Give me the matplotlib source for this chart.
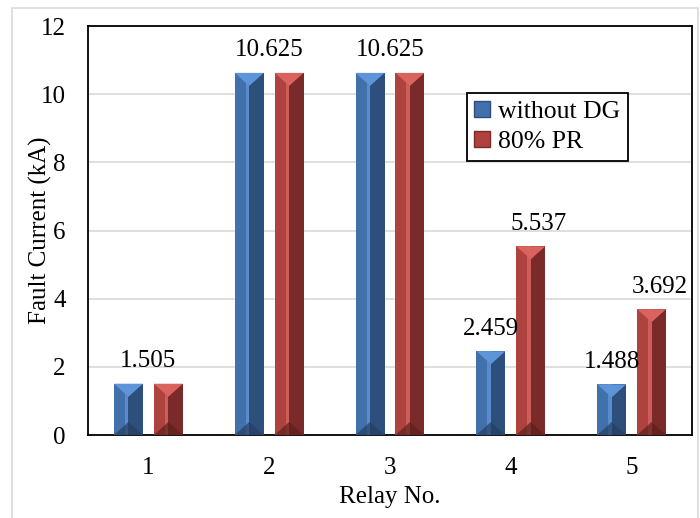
import numpy as np
import matplotlib.pyplot as plt
from matplotlib.patches import Polygon, Rectangle, Patch

# data
relays = [1, 2, 3, 4, 5]
without_dg = [1.505, 10.625, 10.625, 2.459, 1.488]
pr_80 = [1.505, 10.625, 10.625, 5.537, 3.692]
series_names = ['without DG', '80% PR']
yticks = [0, 2, 4, 6, 8, 10, 12]

# bevel shades: left, right, centre highlight, top, bottom
shades = {
    'without DG': ['#4170aa', '#2d4f7c', '#5a8ccc', '#5e94d8', '#263f60'],
    '80% PR': ['#ad423e', '#7a2a28', '#cc5d58', '#d9635e', '#5e201f'],
}

plt.rcParams['font.family'] = ['Liberation Serif', 'DejaVu Serif']
plt.rcParams['font.size'] = 18

fig = plt.figure(figsize=(7, 5.18), dpi=100)
ax = fig.add_axes([0.1257, 0.1602, 0.8629, 0.7896])
ax.set_xlim(0.5, 5.5)
ax.set_ylim(0, 12)

w = 0.24
offs = [-0.165, 0.165]
# pixel aspect to turn a horizontal bevel into data-y units
bbox = ax.get_window_extent()
px_x = bbox.width / 5.0
px_y = bbox.height / 12.0
d = (w / 2) * px_x / px_y * 0.9

x = np.array(relays, dtype=float)
for vals, name, off in zip([without_dg, pr_80], series_names, offs):
    c = shades[name]
    xs = x + off
    ax.bar(xs, vals, width=w, color=c[0], zorder=3)
    for xc, h in zip(xs, vals):
        x0, x1 = xc - w / 2, xc + w / 2
        ax.add_patch(Rectangle((xc, 0), w / 2, h, color=c[1], zorder=3, lw=0))
        ax.add_patch(Rectangle((xc - w * 0.12, 0), w * 0.12, h, color=c[2], zorder=3, lw=0))
        ax.add_patch(Polygon([(x0, h), (x1, h), (xc, h - d)], closed=True,
                             color=c[3], zorder=4, lw=0))
        ax.add_patch(Polygon([(x0, 0), (x1, 0), (xc, d)], closed=True,
                             color=c[4], zorder=4, lw=0, alpha=0.7))

# value labels
for i, (a, b) in enumerate(zip(without_dg, pr_80)):
    if a == b:
        ax.annotate(f'{a:.3f}', (x[i], a), xytext=(0, 12), textcoords='offset points',
                    ha='center', va='baseline', fontsize=18)
    else:
        ax.annotate(f'{a:.3f}', (x[i] + offs[0], a), xytext=(0, 12), textcoords='offset points',
                    ha='center', va='baseline', fontsize=18)
        ax.annotate(f'{b:.3f}', (x[i] + offs[1], b), xytext=(6, 12), textcoords='offset points',
                    ha='center', va='baseline', fontsize=18)

ax.set_yticks(yticks)
ax.set_xticks(relays)
ax.grid(axis='y', color='#d9d9d9', lw=1.2, zorder=0)
ax.set_axisbelow(True)
ax.tick_params(length=0)
ax.tick_params(axis='y', pad=16)
ax.tick_params(axis='x', pad=16)
for s in ax.spines.values():
    s.set_color('black')
    s.set_linewidth(1.3)

ax.set_ylabel('Fault Current (kA)', fontsize=18, labelpad=-8)
ax.set_xlabel('Relay No.', fontsize=18, labelpad=5)

handles = [Patch(facecolor=shades[n][0], edgecolor=shades[n][1]) for n in series_names]
leg = ax.legend(handles, series_names, loc='upper left', bbox_to_anchor=(0.627, 0.836),
                borderaxespad=0, fancybox=False, framealpha=1, edgecolor='black',
                handlelength=0.6, handleheight=0.6, handletextpad=0.3, fontsize=18.5,
                borderpad=0.3, labelspacing=0.3)
leg.get_frame().set_linewidth(1.3)

# chart-area border
fig.patches.append(Rectangle((12 / 700, -0.1), 686 / 700, 1.1 - 8 / 518,
                             transform=fig.transFigure, fill=False,
                             edgecolor='#d9d9d9', lw=1.2))

fig.savefig('out.png', dpi=100)
